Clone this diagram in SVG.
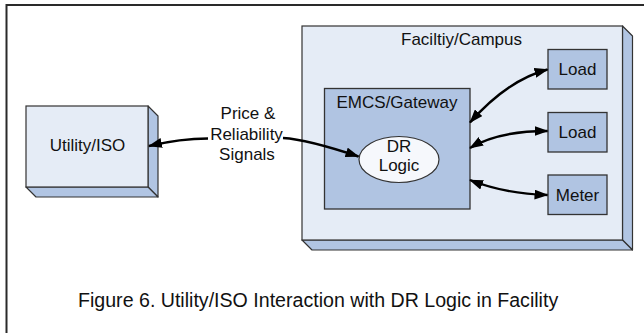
<svg xmlns="http://www.w3.org/2000/svg" width="644" height="333" viewBox="0 0 644 333">
<defs>
<style>
text{font-family:"Liberation Sans",Arial,sans-serif;fill:#111;}
.lbl{font-size:17px;text-anchor:middle;}
.face{fill:#e5ecf6;stroke:#333;stroke-width:1.2;}
.side{fill:#b1c5e3;stroke:#333;stroke-width:1.2;stroke-linejoin:round;}
.box{fill:#b0c4e2;stroke:#333;stroke-width:1.3;}
.conn{fill:none;stroke:#000;stroke-width:2.4;}
</style>
<marker id="ah" viewBox="0 0 14 10" refX="13" refY="5" markerWidth="14" markerHeight="10" markerUnits="userSpaceOnUse" orient="auto-start-reverse">
<path d="M0,0 L14,5 L0,10 Z" fill="#000"/>
</marker>
</defs>
<rect width="644" height="333" fill="#fff"/>
<g id="frame">
<path d="M6.5,333 V5 H644" fill="none" stroke="#2a2a2a" stroke-width="2"/>
</g>
<g id="utility">
<polygon class="side" points="148,106 158,116 158,197 148,187"/>
<polygon class="side" points="26,187 148,187 158,197 36,197"/>
<rect class="face" x="26" y="106" width="122" height="81"/>
<text class="lbl" x="87.5" y="151">Utility/ISO</text>
</g>
<g id="facility">
<polygon class="side" points="622.5,26 632.5,36 632.5,250 622.5,240"/>
<polygon class="side" points="302,240 622.5,240 632.5,250 312,250"/>
<rect class="face" x="302" y="26" width="320.5" height="214"/>
<text class="lbl" x="461.5" y="45">Faciltiy/Campus</text>
</g>
<g id="emcs">
<rect class="box" x="324.5" y="88.5" width="145.5" height="120.5"/>
<text class="lbl" x="397" y="108">EMCS/Gateway</text>
</g>
<g id="drlogic">
<ellipse cx="399" cy="159.5" rx="40" ry="23" fill="#f6f8fc" stroke="#333" stroke-width="1.2"/>
<text class="lbl" x="399" y="152">DR</text>
<text class="lbl" x="399" y="171">Logic</text>
</g>
<g id="load1">
<rect class="box" x="548" y="49.5" width="59" height="39.5"/>
<text class="lbl" x="577.5" y="75">Load</text>
</g>
<g id="load2">
<rect class="box" x="548" y="112.5" width="59" height="39.5"/>
<text class="lbl" x="577.5" y="138">Load</text>
</g>
<g id="meter">
<rect class="box" x="548" y="175" width="59" height="39.5"/>
<text class="lbl" x="577.5" y="200.5">Meter</text>
</g>
<g id="signals-label">
<text class="lbl" x="248" y="119">Price &amp;</text>
<text class="lbl" x="246.5" y="140">Reliability</text>
<text class="lbl" x="247" y="160">Signals</text>
</g>
<g id="connectors">
<path class="conn" d="M208,138.5 C188,138.5 170,141 149,146" marker-end="url(#ah)"/>
<path class="conn" d="M283,138 C300,139 330,147 358.5,156.5" marker-end="url(#ah)"/>
<path class="conn" d="M470,122.5 C490,100 515,78 547.5,69.5" marker-start="url(#ah)" marker-end="url(#ah)"/>
<path class="conn" d="M470,148 C490,136 515,131 547.5,131" marker-start="url(#ah)" marker-end="url(#ah)"/>
<path class="conn" d="M470,180 C490,188 515,194 547.5,195" marker-start="url(#ah)" marker-end="url(#ah)"/>
</g>
<g id="caption">
<text x="78" y="307" style="font-size:19.6px">Figure 6. Utility/ISO Interaction with DR Logic in Facility</text>
</g>
</svg>
